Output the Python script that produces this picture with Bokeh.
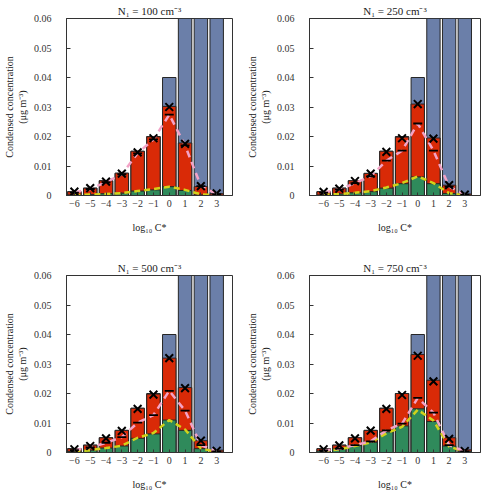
from bokeh.plotting import figure
from bokeh.models import Range1d, FixedTicker
from bokeh.layouts import gridplot
from bokeh.embed import file_html
from bokeh.resources import INLINE

# ---------------- data ----------------
log_cstar = [-6, -5, -4, -3, -2, -1, 0, 1, 2, 3]
tick_labels = ["\u22126", "\u22125", "\u22124", "\u22123", "\u22122", "\u22121", "0", "1", "2", "3"]
y_ticks = [0, 0.01, 0.02, 0.03, 0.04, 0.05, 0.06]
y_tick_labels = ["0", "0.01", "0.02", "0.03", "0.04", "0.05", "0.06"]

titles = ["N\u2081 = 100 cm\u207b\u00b3", "N\u2081 = 250 cm\u207b\u00b3",
          "N\u2081 = 500 cm\u207b\u00b3", "N\u2081 = 750 cm\u207b\u00b3"]

# total (gas + particle) concentration per volatility bin
total = [0.0013, 0.0025, 0.005, 0.0075, 0.015, 0.02, 0.04, 0.5, 0.8, 1.0]

# condensed concentration (red bars)
cond_100 = [0.0013, 0.0025, 0.005, 0.0076, 0.015, 0.0199, 0.0302, 0.0178, 0.003, 0.0006]
cond_250 = [0.0013, 0.0025, 0.005, 0.0075, 0.015, 0.0198, 0.031, 0.0195, 0.0035, 0.0005]
cond_500 = [0.0013, 0.0025, 0.005, 0.0075, 0.015, 0.0198, 0.032, 0.022, 0.004, 0.0008]
cond_750 = [0.0013, 0.0025, 0.005, 0.0075, 0.015, 0.02, 0.0332, 0.0245, 0.005, 0.0009]

# green component
green_100 = [0.0002, 0.0003, 0.0006, 0.0008, 0.0015, 0.0019, 0.003, 0.0017, 0.0002, 0.0001]
green_250 = [0.0002, 0.0005, 0.0009, 0.0013, 0.0025, 0.004, 0.0063, 0.004, 0.0007, 0.0001]
green_500 = [0.0003, 0.0008, 0.0015, 0.0022, 0.0048, 0.0063, 0.011, 0.0075, 0.0013, 0.0002]
green_750 = [0.0005, 0.0012, 0.0023, 0.0035, 0.007, 0.009, 0.0148, 0.0105, 0.0022, 0.0004]

# cross markers
cross_100 = [0.0013, 0.0025, 0.0047, 0.0074, 0.0146, 0.0194, 0.030, 0.0175, 0.0032, 0.0007]
cross_250 = [0.0012, 0.0023, 0.0049, 0.0074, 0.0148, 0.0194, 0.031, 0.0193, 0.0035, 0.0003]
cross_500 = [0.0011, 0.0022, 0.0048, 0.0073, 0.0148, 0.0196, 0.032, 0.0218, 0.004, 0.0006]
cross_750 = [0.0011, 0.0024, 0.0048, 0.0074, 0.0148, 0.0195, 0.0328, 0.0241, 0.0046, 0.0005]

# pink dashed line (with black dash markers)
pink_100 = [0.001, 0.0022, 0.0045, 0.0072, 0.0143, 0.019, 0.0274, 0.017, 0.0032, 0.0005]
pink_250 = [0.001, 0.002, 0.0042, 0.0065, 0.0118, 0.0152, 0.0244, 0.0152, 0.003, 0.0003]
pink_500 = [0.0008, 0.0017, 0.0033, 0.0052, 0.0101, 0.0127, 0.0209, 0.0142, 0.0025, 0.0004]
pink_750 = [0.0007, 0.0013, 0.0025, 0.0038, 0.0075, 0.0098, 0.0185, 0.0135, 0.0025, 0.0004]

# yellow dashed line
yellow_100 = [0.0001, 0.0003, 0.0005, 0.0008, 0.0015, 0.0022, 0.003, 0.0019, 0.0004, 0.0001]
yellow_250 = [0.0002, 0.0005, 0.0009, 0.0015, 0.0027, 0.0042, 0.0065, 0.0042, 0.0008, 0.0001]
yellow_500 = [0.0003, 0.0008, 0.0015, 0.0023, 0.005, 0.0066, 0.011, 0.0078, 0.0014, 0.0002]
yellow_750 = [0.0005, 0.0011, 0.0022, 0.0034, 0.0065, 0.0087, 0.0145, 0.0108, 0.002, 0.0003]

# ---------------- styling ----------------
BLUE = "#6b7fa9"
RED = "#d92a07"
GREEN = "#2f8a5b"
PINK = "#f3a3c6"
YELLOW = "#d2d21a"
EDGE = "#262626"
FONT = "Liberation Serif"


def make_panel(title, cond, green, cross, pink, yellow, x_start, width, height,
               b_left, b_right, b_top, b_bottom):
    p = figure(width=width, height=height,
               x_range=Range1d(x_start, 4.0), y_range=Range1d(0, 0.06),
               output_backend="svg", toolbar_location=None,
               min_border_left=b_left, min_border_right=b_right,
               min_border_top=b_top, min_border_bottom=b_bottom,
               title=title)
    p.title.align = "center"
    p.title.text_font = FONT
    p.title.text_font_size = "11px"
    p.title.text_font_style = "normal"
    p.title.text_color = "#222222"
    p.title.standoff = 4
    p.grid.visible = False
    p.outline_line_color = "#333333"
    p.background_fill_color = "white"
    p.border_fill_color = "white"

    p.vbar(x=log_cstar, top=total, bottom=0, width=0.85,
           fill_color=BLUE, line_color=EDGE, line_width=1)
    p.vbar(x=log_cstar, top=cond, bottom=0, width=0.85,
           fill_color=RED, line_color=EDGE, line_width=1)
    p.vbar(x=log_cstar, top=green, bottom=0, width=0.85,
           fill_color=GREEN, line_color=EDGE, line_width=1)

    p.line(log_cstar, yellow, line_color=YELLOW, line_width=2.5, line_dash="6 4")
    p.line(log_cstar, pink, line_color=PINK, line_width=2.5, line_dash="7 5")
    p.scatter(log_cstar, pink, marker="dash", size=9,
              line_color="black", line_width=1.8)
    p.scatter(log_cstar, cross, marker="x", size=11,
              line_color="black", line_width=2)

    xa = p.xaxis[0]
    xa.ticker = FixedTicker(ticks=log_cstar)
    xa.major_label_overrides = {k: v for k, v in zip(log_cstar, tick_labels)}
    xa.axis_label = "log\u2081\u2080 C*"
    xa.major_tick_in = 3
    xa.major_tick_out = 0
    xa.minor_tick_line_color = None
    xa.major_label_standoff = 4
    xa.axis_label_standoff = 12

    ya = p.yaxis[0]
    ya.ticker = FixedTicker(ticks=y_ticks)
    ya.major_label_overrides = {k: v for k, v in zip(y_ticks, y_tick_labels)}
    ya.axis_label = "Condensed concentration\n(\u03bcg m\u207b\u00b3)"
    ya.major_tick_in = 4
    ya.major_tick_out = 0
    ya.minor_tick_line_color = None
    ya.major_label_standoff = 15
    ya.axis_label_standoff = 3

    for ax in (xa, ya):
        ax.axis_line_color = "#333333"
        ax.major_tick_line_color = "#333333"
        ax.major_label_text_font = FONT
        ax.major_label_text_font_size = "10px"
        ax.major_label_text_color = "#333333"
        ax.axis_label_text_font = FONT
        ax.axis_label_text_font_size = "10px"
        ax.axis_label_text_font_style = "normal"
        ax.axis_label_text_color = "#222222"
    return p


p1 = make_panel(titles[0], cond_100, green_100, cross_100, pink_100, yellow_100,
                -6.5, 243, 247, 60, 11, 17, 52)
p2 = make_panel(titles[1], cond_250, green_250, cross_250, pink_250, yellow_250,
                -6.9, 244, 247, 59, 7, 17, 52)
p3 = make_panel(titles[2], cond_500, green_500, cross_500, pink_500, yellow_500,
                -6.5, 243, 247, 60, 11, 28, 42)
p4 = make_panel(titles[3], cond_750, green_750, cross_750, pink_750, yellow_750,
                -6.9, 244, 247, 59, 7, 28, 42)

layout = gridplot([[p1, p2], [p3, p4]], toolbar_location=None)

open("out.html", "w").write(file_html(layout, INLINE))
